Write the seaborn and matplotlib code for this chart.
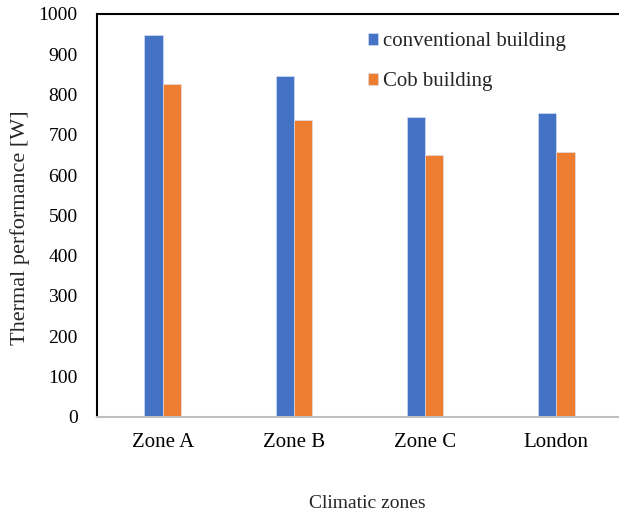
import matplotlib
matplotlib.use("Agg")
import matplotlib.pyplot as plt
import seaborn as sns
import pandas as pd

zones = ["Zone A", "Zone B", "Zone C", "London"]
conventional = [947, 845, 744, 753]
cob = [826, 737, 649, 657]
series_names = ["conventional building", "Cob building"]
colors = ["#4472C4", "#ED7D31"]
yticks = [0, 100, 200, 300, 400, 500, 600, 700, 800, 900, 1000]

df = pd.DataFrame({
    "zone": zones * 2,
    "value": conventional + cob,
    "series": [series_names[0]] * len(zones) + [series_names[1]] * len(zones),
})

sns.set_style("white")
plt.rcParams["font.family"] = ["Liberation Serif", "DejaVu Serif"]

fig = plt.figure(figsize=(6.19, 5.12), dpi=100)
ax = fig.add_axes([97 / 619, 1 - 416.7 / 512, 525 / 619, 402.7 / 512])

sns.barplot(data=df, x="zone", y="value", hue="series", order=zones,
            hue_order=series_names, palette=colors, width=0.28, saturation=1,
            edgecolor="#dde6f5", linewidth=0.4, ax=ax)

ax.set_ylim(0, 1000)
ax.set_xlim(-0.5, 3.5)
ax.set_yticks(yticks)
ax.set_yticklabels([str(t) for t in yticks])
ax.tick_params(axis="both", length=0, colors="black")
ax.tick_params(axis="y", pad=14, labelsize=14)
ax.tick_params(axis="x", pad=12, labelsize=15)

ax.set_xlabel("Climatic zones", fontsize=14, labelpad=31)
ax.set_ylabel("Thermal performance [W]", fontsize=16, labelpad=6)
ax.xaxis.label.set_x(0.514)
ax.yaxis.label.set_y(0.469)

for s in ["left", "top"]:
    ax.spines[s].set_color("black")
    ax.spines[s].set_linewidth(1.5)
ax.spines["right"].set_visible(False)
ax.spines["bottom"].set_color("#bfbfbf")
ax.spines["bottom"].set_linewidth(1.5)

leg = ax.legend(loc="upper left", bbox_to_anchor=(0.5, 0.975), frameon=False,
                fontsize=15, handlelength=0.48, handleheight=0.48,
                handletextpad=0.25, labelspacing=1.0, borderaxespad=0)

fig.savefig("out.png", dpi=100)
